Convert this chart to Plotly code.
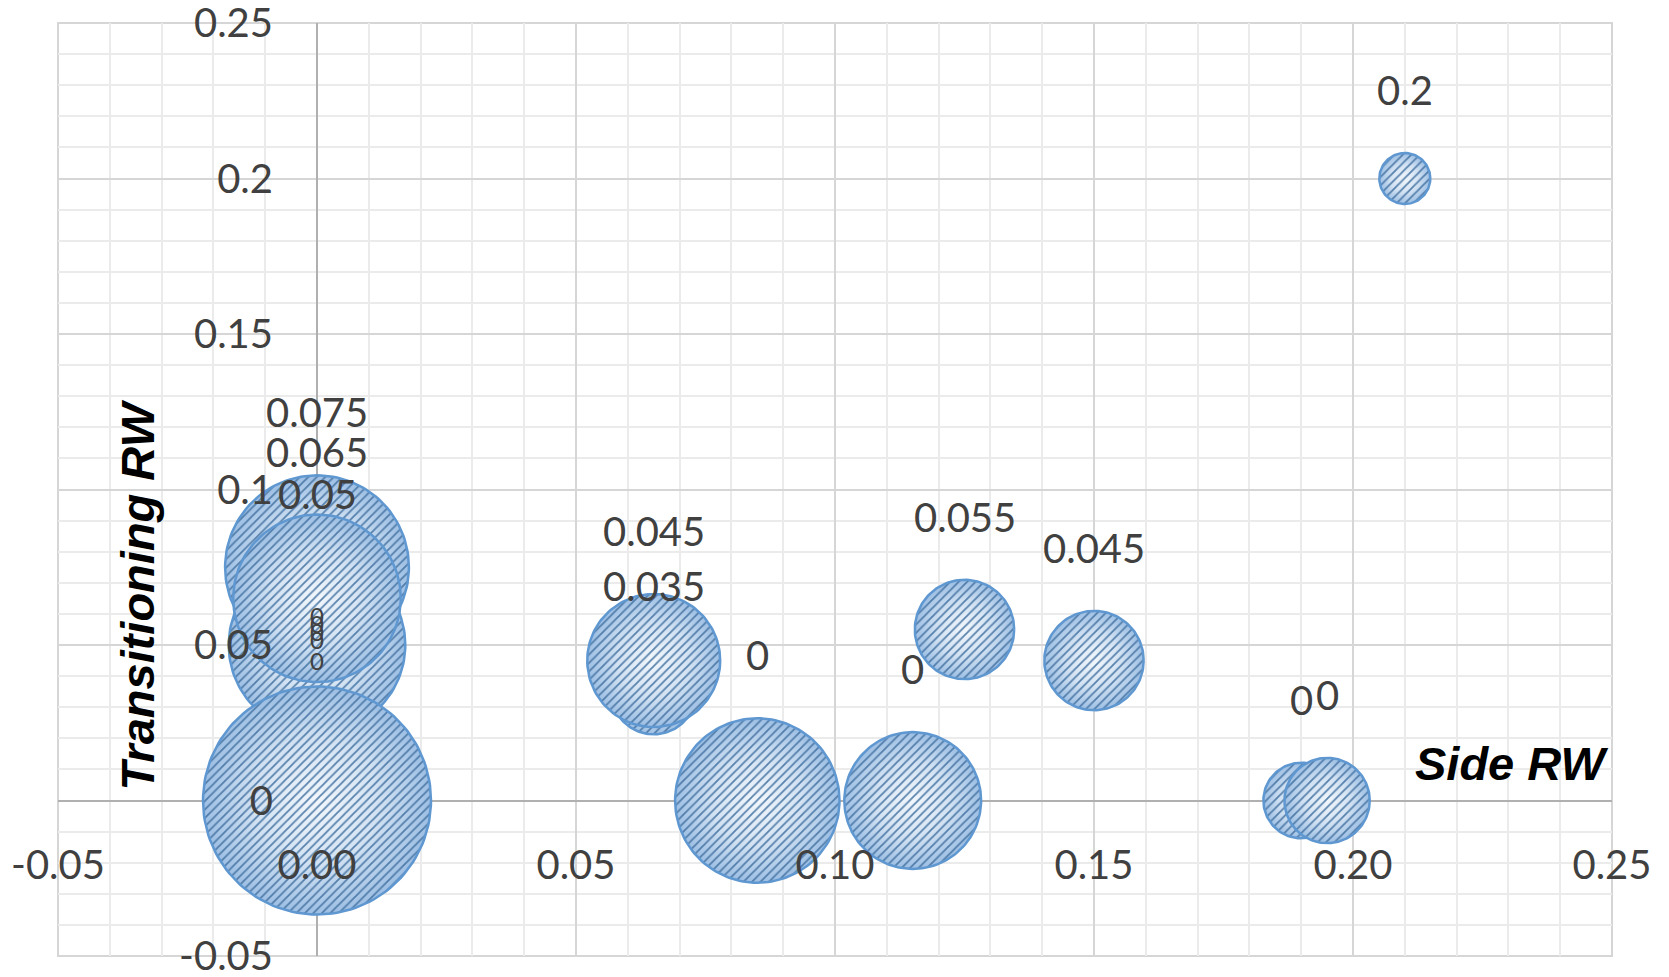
import numpy as np
import plotly.graph_objects as go

# ---- data -------------------------------------------------------------
# Side RW (x), Transitioning RW (y) and bubble size, listed in drawing order
side_rw = [0.0, 0.0, 0.0, 0.0, 0.0, 0.0, 0.0, 0.0,
           0.065, 0.065, 0.085, 0.115, 0.125, 0.15, 0.19, 0.195, 0.21]
transitioning_rw = [0.0, 0.0, 0.0, 0.0, 0.05, 0.0, 0.075, 0.065,
                    0.035, 0.045, 0.0, 0.0, 0.055, 0.045, 0.0, 0.0, 0.2]
bubble_size = [86, 74, 62, 37, 60, 100, 65, 54,
               14, 34, 52, 36, 19, 19, 11, 14, 5]
# label style per point: small labels for the points stacked at the origin
label_small = [True, True, True, True, False, True, False, False,
               False, False, False, False, False, False, False, False, False]

x_tickvals = [-0.05, 0.0, 0.05, 0.10, 0.15, 0.20, 0.25]
x_ticktext = ["-0.05", "0.00", "0.05", "0.10", "0.15", "0.20", "0.25"]
y_tickvals = [-0.05, 0.0, 0.05, 0.10, 0.15, 0.20, 0.25]
y_ticktext = ["-0.05", "0", "0.05", "0.1", "0.15", "0.2", "0.25"]

# ---- layout geometry --------------------------------------------------
W, H = 1669, 977
ML, MR, MT, MB = 58, 57, 23, 21
X_RANGE = [-0.05, 0.25]
Y_RANGE = [-0.05, 0.25]
PX_X = (W - ML - MR) / (X_RANGE[1] - X_RANGE[0])
PX_Y = (H - MT - MB) / (Y_RANGE[1] - Y_RANGE[0])

R_MAX = 114.0                      # radius in px of the largest bubble
S_MAX = max(bubble_size)
GAP_BIG, GAP_SMALL = 63, 71        # label offset above bubble top (px)

LABEL_FONT = "Lato"
TEXT_COLOR = "#404040"


def radius_px(s):
    # bubble area proportional to size
    return R_MAX * np.sqrt(s / S_MAX)


def circle(cx, cy, r):
    t = np.linspace(0, 2 * np.pi, 145)
    return cx + r / PX_X * np.cos(t), cy + r / PX_Y * np.sin(t)


fig = go.Figure()

for x, y, s in zip(side_rw, transitioning_rw, bubble_size):
    r = radius_px(s)
    xs, ys = circle(x, y, r)
    # shaded body
    fig.add_trace(go.Scatter(
        x=xs, y=ys, mode="lines", fill="toself",
        line=dict(width=0, color="rgba(0,0,0,0)"),
        fillgradient=dict(type="radial",
                          colorscale=[[0, "#f2f7fc"], [0.55, "#d2e2f3"],
                                      [1, "#9dbfe4"]]),
        hoverinfo="skip", showlegend=False))
    # hatch and outline
    fig.add_trace(go.Scatter(
        x=xs, y=ys, mode="lines", fill="toself",
        fillcolor="rgba(0,0,0,0)",
        fillpattern=dict(shape="/", size=6, solidity=0.3,
                         fgcolor="#41709f", bgcolor="rgba(0,0,0,0)",
                         fgopacity=0.85),
        line=dict(color="#5f97d0", width=2.5),
        hoverinfo="skip", showlegend=False))

annotations = []
for x, y, s, small in zip(side_rw, transitioning_rw, bubble_size, label_small):
    r = radius_px(s)
    annotations.append(dict(
        x=x, y=y, xref="x", yref="y", showarrow=False,
        text=f"{y:g}", yshift=r + (GAP_SMALL if small else GAP_BIG),
        font=dict(family=LABEL_FONT, size=24 if small else 40,
                  color=TEXT_COLOR)))

# axis titles
annotations.append(dict(
    xref="paper", yref="paper", x=0.999, y=0.2058,
    xanchor="right", yanchor="middle", showarrow=False,
    text="<b><i>Side RW</i></b>",
    font=dict(family="Liberation Sans", size=47, color="black")))
annotations.append(dict(
    xref="paper", yref="paper", x=0.0512, y=0.387,
    xanchor="center", yanchor="middle", showarrow=False, textangle=-90,
    text="<b><i>Transitioning RW</i></b>",
    font=dict(family="Liberation Sans", size=47, color="black")))

axis_common = dict(
    ticks="outside", tickcolor="rgba(0,0,0,0)",
    tickfont=dict(family=LABEL_FONT, size=40, color=TEXT_COLOR),
    ticklabeloverflow="allow",
    showgrid=True, gridcolor="#d6d6d6", gridwidth=2,
    zeroline=True, zerolinecolor="#b0b0b0", zerolinewidth=2,
    showline=False, automargin=False, fixedrange=True,
    minor=dict(tick0=0, dtick=0.01, showgrid=True,
               gridcolor="#ebebeb", gridwidth=1.5, ticklen=0),
    anchor="free",
)

fig.update_layout(
    template="none",
    width=W, height=H,
    margin=dict(l=ML, r=MR, t=MT, b=MB),
    paper_bgcolor="white", plot_bgcolor="white",
    showlegend=False,
    xaxis=dict(range=X_RANGE, tickmode="array", tickvals=x_tickvals,
               ticktext=x_ticktext, ticklen=29,
               position=(0 - Y_RANGE[0]) / (Y_RANGE[1] - Y_RANGE[0]),
               **axis_common),
    yaxis=dict(range=Y_RANGE, tickmode="array", tickvals=y_tickvals,
               ticktext=y_ticktext, ticklen=36,
               position=(0 - X_RANGE[0]) / (X_RANGE[1] - X_RANGE[0]),
               **axis_common),
    annotations=annotations,
    shapes=[dict(type="rect", xref="paper", yref="paper",
                 x0=0, x1=1, y0=0, y1=1, layer="below",
                 line=dict(color="#d6d6d6", width=2))],
)

fig.write_html("out.html")
